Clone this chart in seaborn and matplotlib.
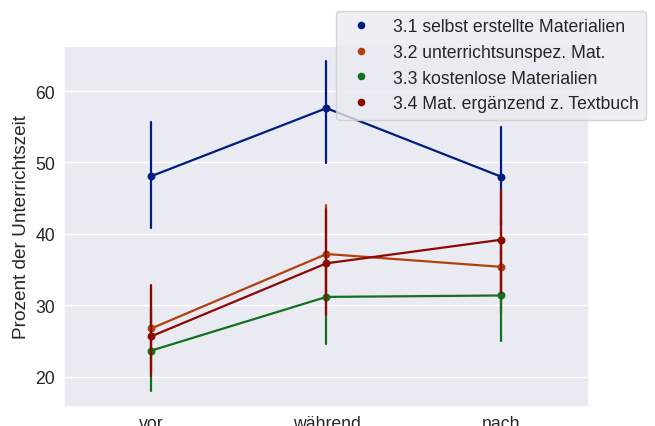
import matplotlib
matplotlib.use("Agg")
import matplotlib.pyplot as plt
from matplotlib.lines import Line2D
import pandas as pd
import seaborn as sns

# Phases of the lesson and material categories
phases = ["vor", "während", "nach"]
series = [
    "3.1 selbst erstellte Materialien",
    "3.2 unterrichtsunspez. Mat.",
    "3.3 kostenlose Materialien",
    "3.4 Mat. ergänzend z. Textbuch",
]

# Mean share of lesson time (%) per phase, with lower / upper interval bounds
mean_31 = [48.1, 57.6, 48.0]
low_31 = [40.8, 49.9, 41.2]
high_31 = [55.7, 64.2, 54.9]

mean_32 = [26.8, 37.2, 35.4]
low_32 = [21.0, 30.5, 29.0]
high_32 = [32.5, 44.0, 42.0]

mean_33 = [23.7, 31.2, 31.4]
low_33 = [18.0, 24.6, 25.1]
high_33 = [29.5, 37.6, 37.7]

mean_34 = [25.7, 35.9, 39.2]
low_34 = [20.1, 28.6, 31.8]
high_34 = [32.9, 43.5, 46.2]

yticks = [20, 30, 40, 50, 60]

# Long-form table: each phase holds its lower bound, mean and upper bound,
# so the median is the mean and the full percentile range is the interval.
rows = []
for name, m, lo, hi in zip(
    series,
    [mean_31, mean_32, mean_33, mean_34],
    [low_31, low_32, low_33, low_34],
    [high_31, high_32, high_33, high_34],
):
    for p, mv, lv, hv in zip(phases, m, lo, hi):
        for v in (lv, mv, hv):
            rows.append({"Phase": p, "Material": name, "Prozent": v})
df = pd.DataFrame(rows)

sns.set_theme(style="darkgrid")
plt.rcParams["font.family"] = ["Liberation Sans", "DejaVu Sans"]

palette = sns.color_palette("dark", 4)

fig = plt.figure(figsize=(6.55, 4.27), dpi=100)
ax = fig.add_axes([0.0977, 0.0445, 0.8015, 0.8455])

sns.pointplot(
    data=df, x="Phase", y="Prozent", hue="Material",
    order=phases, hue_order=series, palette=palette,
    estimator="median", errorbar=("pi", 100),
    markersize=4.5, linewidth=1.6, err_kws={"linewidth": 1.6},
    ax=ax,
)

ax.set_ylim(15.8, 66.3)
ax.set_yticks(yticks)
ax.set_xlabel("")
ax.set_ylabel("Prozent der Unterrichtszeit", fontsize=13.7)
ax.tick_params(axis="x", labelsize=12.7, length=0, pad=5.5)
ax.tick_params(axis="y", labelsize=12.7, length=0, pad=6.5)

ax.get_legend().remove()
handles = [
    Line2D([], [], marker="o", linestyle="none", color=c, markersize=4.5)
    for c in palette
]
fig.legend(
    handles, series, loc="upper right",
    bbox_to_anchor=(0.986, 0.972), bbox_transform=fig.transFigure,
    borderaxespad=0, fontsize=12.7,
)

fig.savefig("out.png", dpi=100)
